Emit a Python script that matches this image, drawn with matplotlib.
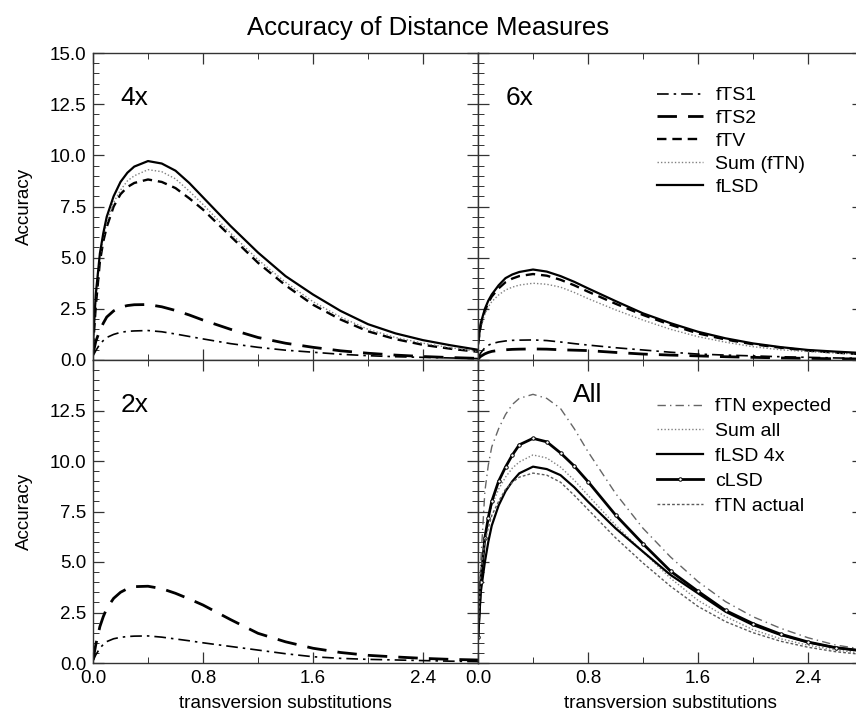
import matplotlib
matplotlib.use("Agg")
import matplotlib.pyplot as plt
from matplotlib.ticker import MultipleLocator, FormatStrFormatter

plt.rcParams['font.family'] = ['Liberation Sans', 'DejaVu Sans']

# x positions (transversion substitutions) at which values were read
x = [0, 0.02, 0.05, 0.075, 0.1, 0.15, 0.2, 0.25, 0.3, 0.4, 0.5, 0.6, 0.7, 0.8,
     1.0, 1.2, 1.4, 1.6, 1.8, 2.0, 2.2, 2.4, 2.6, 2.8]

# 4x panel
fts1_4x = [0.2, 0.45, 0.78, 0.95, 1.1, 1.25, 1.35, 1.4, 1.42, 1.44, 1.38, 1.27, 1.15, 1.03,
           0.8, 0.62, 0.48, 0.38, 0.28, 0.21, 0.16, 0.13, 0.1, 0.07]
fts2_4x = [0.3, 0.9, 1.45, 1.8, 2.1, 2.4, 2.58, 2.66, 2.7, 2.71, 2.6, 2.42, 2.2, 1.95,
           1.5, 1.1, 0.82, 0.62, 0.45, 0.33, 0.24, 0.17, 0.12, 0.08]
ftv_4x = [0.6, 2.6, 4.8, 5.8, 6.5, 7.5, 8.1, 8.45, 8.65, 8.82, 8.7, 8.4, 7.9, 7.35,
          6.05, 4.75, 3.65, 2.7, 1.98, 1.4, 1.02, 0.74, 0.55, 0.4]
sum_4x = [0.7, 3.0, 5.0, 6.0, 6.7, 7.7, 8.3, 8.75, 9.0, 9.3, 9.2, 8.85, 8.25, 7.6,
          6.2, 4.9, 3.8, 2.85, 2.1, 1.5, 1.1, 0.82, 0.6, 0.42]
flsd_4x = [0.8, 3.2, 5.2, 6.2, 7.0, 8.0, 8.7, 9.15, 9.45, 9.72, 9.6, 9.25, 8.65, 7.95,
           6.55, 5.25, 4.1, 3.2, 2.4, 1.75, 1.3, 0.97, 0.72, 0.5]

# 6x panel
fts1_6x = [0.1, 0.35, 0.6, 0.72, 0.8, 0.88, 0.93, 0.96, 0.97, 0.98, 0.95, 0.88, 0.8, 0.73,
           0.6, 0.49, 0.38, 0.29, 0.24, 0.2, 0.16, 0.13, 0.1, 0.08]
fts2_6x = [0.05, 0.18, 0.3, 0.37, 0.42, 0.47, 0.5, 0.52, 0.53, 0.54, 0.53, 0.5, 0.48, 0.46,
           0.37, 0.29, 0.24, 0.2, 0.16, 0.13, 0.1, 0.08, 0.06, 0.05]
ftv_6x = [0.75, 1.7, 2.4, 2.8, 3.1, 3.5, 3.8, 3.98, 4.1, 4.2, 4.12, 3.92, 3.65, 3.34,
          2.75, 2.2, 1.72, 1.3, 1.0, 0.77, 0.6, 0.46, 0.36, 0.28]
sum_6x = [0.7, 1.6, 2.25, 2.6, 2.85, 3.18, 3.42, 3.56, 3.66, 3.75, 3.7, 3.56, 3.3, 3.0,
          2.45, 1.95, 1.5, 1.14, 0.87, 0.65, 0.5, 0.41, 0.34, 0.28]
flsd_6x = [0.8, 1.8, 2.5, 2.9, 3.2, 3.65, 4.0, 4.18, 4.3, 4.42, 4.32, 4.1, 3.82, 3.5,
           2.88, 2.28, 1.8, 1.38, 1.06, 0.81, 0.63, 0.49, 0.41, 0.34]

# 2x panel
fts1_2x = [0.1, 0.4, 0.73, 0.92, 1.06, 1.2, 1.27, 1.31, 1.33, 1.34, 1.28, 1.19, 1.1, 1.0,
           0.82, 0.64, 0.46, 0.31, 0.23, 0.18, 0.15, 0.12, 0.09, 0.07]
fts2_2x = [0.15, 0.9, 1.8, 2.3, 2.7, 3.2, 3.5, 3.68, 3.78, 3.8, 3.68, 3.45, 3.17, 2.87,
           2.15, 1.47, 1.05, 0.73, 0.52, 0.38, 0.3, 0.23, 0.18, 0.15]

# All panel
ftn_expected = [1.5, 5.0, 8.5, 9.8, 10.7, 11.6, 12.3, 12.8, 13.1, 13.3, 13.1, 12.6, 11.6, 10.46,
                8.4, 6.67, 5.25, 4.03, 3.04, 2.29, 1.72, 1.25, 0.89, 0.68]
sum_all = [1.5, 4.3, 6.3, 7.1, 7.8, 8.6, 9.2, 9.65, 9.95, 10.3, 10.15, 9.7, 9.05, 8.3,
           6.83, 5.5, 4.2, 3.1, 2.3, 1.65, 1.2, 0.88, 0.65, 0.48]
flsd_all = [1.2, 3.5, 5.0, 6.0, 6.8, 7.8, 8.5, 9.0, 9.39, 9.72, 9.6, 9.3, 8.7, 7.99,
            6.67, 5.51, 4.36, 3.45, 2.54, 1.88, 1.39, 1.02, 0.76, 0.6]
clsd = [1.3, 4.0, 6.2, 7.2, 8.0, 9.0, 9.7, 10.3, 10.8, 11.12, 10.95, 10.4, 9.75, 8.98,
        7.33, 5.9, 4.55, 3.55, 2.6, 1.95, 1.43, 1.04, 0.76, 0.6]
ftn_actual = [1.5, 4.5, 6.0, 6.7, 7.3, 8.0, 8.6, 8.95, 9.2, 9.4, 9.3, 8.95, 8.3, 7.6,
              6.2, 4.95, 3.8, 2.8, 2.05, 1.5, 1.08, 0.78, 0.56, 0.42]

fig = plt.figure(figsize=(8.56, 7.14), dpi=100)
W, H = 856, 714

def make_ax(left, top, width, height):
    return fig.add_axes([left / W, 1 - (top + height) / H, width / W, height / H])

ax_4x = make_ax(93, 53, 385, 307)
ax_6x = make_ax(478, 53, 385, 307)
ax_2x = make_ax(93, 360, 385, 303)
ax_all = make_ax(478, 360, 385, 303)

st_ts1 = dict(color='black', lw=1.2, dashes=(7, 3, 1.5, 3))
st_ts2 = dict(color='black', lw=2.0, dashes=(7, 4))
st_tv = dict(color='black', lw=1.7, dashes=(4, 2.5))
st_sum = dict(color='#808080', lw=1.0, dashes=(1, 1.5))
st_lsd = dict(color='black', lw=1.6)

ax_4x.plot(x, fts1_4x, label='fTS1', **st_ts1)
ax_4x.plot(x, fts2_4x, label='fTS2', **st_ts2)
ax_4x.plot(x, ftv_4x, label='fTV', **st_tv)
ax_4x.plot(x, sum_4x, label='Sum (fTN)', **st_sum)
ax_4x.plot(x, flsd_4x, label='fLSD', **st_lsd)

h6 = []
h6 += ax_6x.plot(x, fts1_6x, label='fTS1', **st_ts1)
h6 += ax_6x.plot(x, fts2_6x, label='fTS2', **st_ts2)
h6 += ax_6x.plot(x, ftv_6x, label='fTV', **st_tv)
h6 += ax_6x.plot(x, sum_6x, label='Sum (fTN)', **st_sum)
h6 += ax_6x.plot(x, flsd_6x, label='fLSD', **st_lsd)

ax_2x.plot(x, fts1_2x, **st_ts1)
ax_2x.plot(x, fts2_2x, **st_ts2)

ax_all.plot(x, ftn_expected, label='fTN expected', color='#666666', lw=1.0, dashes=(6, 3, 1, 3))
ax_all.plot(x, sum_all, label='Sum all', color='#808080', lw=1.0, dashes=(1, 1.5))
ax_all.plot(x, flsd_all, label='fLSD 4x', color='black', lw=1.6)
ax_all.plot(x, clsd, label='cLSD', color='black', lw=2.0, marker='o', ms=2.5,
            mfc='white', mec='black', mew=0.7)
ax_all.plot(x, ftn_actual, label='fTN actual', color='#5a5a5a', lw=1.0, dashes=(2, 1.5))

for ax in (ax_4x, ax_6x, ax_2x, ax_all):
    ax.set_xlim(0, 2.8)
    ax.set_ylim(0, 15)
    ax.xaxis.set_major_locator(MultipleLocator(0.8))
    ax.xaxis.set_minor_locator(MultipleLocator(0.4))
    ax.yaxis.set_major_locator(MultipleLocator(2.5))
    ax.yaxis.set_minor_locator(MultipleLocator(0.5))
    ax.xaxis.set_major_formatter(FormatStrFormatter('%.1f'))
    ax.yaxis.set_major_formatter(FormatStrFormatter('%.1f'))
    ax.tick_params(which='both', direction='in', top=True, right=True, labelsize=13.5,
                   color='#333333', pad=5)
    ax.tick_params(which='major', length=8, width=0.9)
    ax.tick_params(which='minor', length=4, width=0.7)
    for s in ax.spines.values():
        s.set_linewidth(1.0)
        s.set_color('#333333')

for ax in (ax_4x, ax_6x):
    ax.tick_params(labelbottom=False)
for ax in (ax_6x, ax_all):
    ax.tick_params(labelleft=False)
ax_2x.set_yticks([0, 2.5, 5.0, 7.5, 10.0, 12.5])

for ax in (ax_4x, ax_2x):
    ax.set_ylabel('Accuracy', fontsize=13.5, labelpad=12)
for ax in (ax_2x, ax_all):
    ax.set_xlabel('transversion substitutions', fontsize=13.7, labelpad=6)

ax_4x.text(0.2, 12.45, '4x', fontsize=19)
ax_6x.text(0.2, 12.45, '6x', fontsize=19)
ax_2x.text(0.2, 12.45, '2x', fontsize=19)
ax_all.text(0.69, 12.9, 'All', fontsize=19)

leg_kw = dict(frameon=False, fontsize=14, handlelength=2.35, handletextpad=0.65,
              borderpad=0, borderaxespad=0, loc='upper left')
ax_6x.legend(handles=h6, bbox_to_anchor=(0.465, 0.89), labelspacing=0.27, **leg_kw)
ax_all.legend(bbox_to_anchor=(0.465, 0.875), labelspacing=0.37, **leg_kw)

fig.suptitle('Accuracy of Distance Measures', fontsize=18.5, x=0.5, y=0.978)

fig.savefig('out.png', dpi=100)
